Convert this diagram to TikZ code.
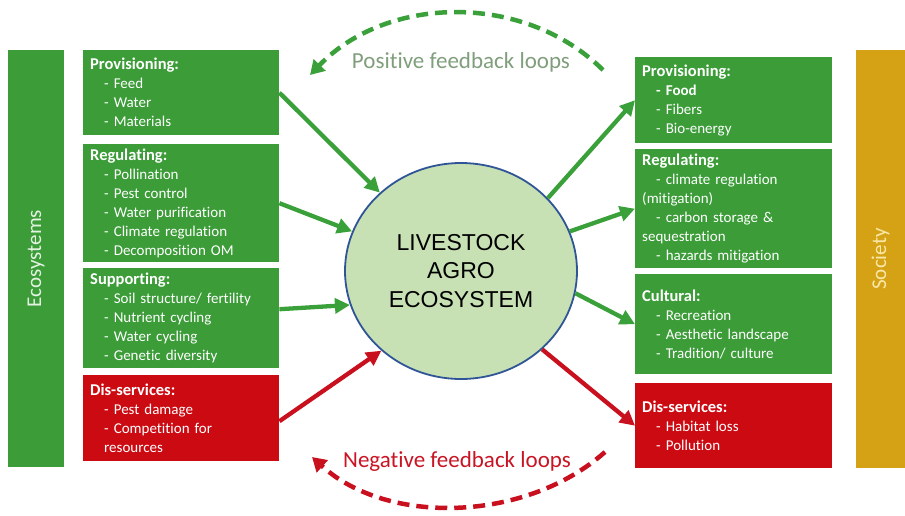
\documentclass[tikz,border=0pt]{standalone}
\usepackage{fontspec}
\setmainfont{Carlito}[Ligatures=NoCommon]
\newfontfamily\arialf{Liberation Sans}
\usetikzlibrary{shapes.geometric,arrows.meta}
\definecolor{gbox}{RGB}{59,156,56}
\definecolor{rbox}{RGB}{204,10,18}
\definecolor{goldbar}{RGB}{213,162,22}
\definecolor{circfill}{RGB}{199,224,180}
\definecolor{circline}{RGB}{47,85,151}
\definecolor{garr}{RGB}{58,160,58}
\definecolor{rarr}{RGB}{200,16,30}
\definecolor{postext}{RGB}{128,158,124}
\definecolor{negtext}{RGB}{200,20,35}
\definecolor{ecotext}{RGB}{228,242,226}
\definecolor{soctext}{RGB}{250,232,168}
\newcommand{\svtitle}[1]{{\bfseries\fontsize{16.5}{19}\selectfont #1}}
\newcommand{\svitem}[1]{\hspace*{14pt}#1}
\tikzset{
  svcbox/.style={anchor=north west, inner xsep=7pt, inner ysep=0pt,
    text width=#1, align=left, text=white,
    font=\fontsize{15}{19}\selectfont},
  gsvc/.style={svcbox=182pt, fill=gbox},
  rsvc/.style={svcbox=182pt, fill=rbox},
  gsvcr/.style={svcbox=183pt, fill=gbox},
  rsvcr/.style={svcbox=183pt, fill=rbox},
  sidebar/.style={rotate=90, inner sep=0pt, font=\fontsize{21}{24}\selectfont},
  garrow/.style={draw=garr, line width=4.3pt, -{Triangle[length=15pt,width=15pt]}},
  rarrow/.style={draw=rarr, line width=4.3pt, -{Triangle[length=15pt,width=15pt]}},
  loopline/.style={line width=4.5pt, dash pattern=on 12pt off 7pt,
    -{Triangle[length=14pt,width=16pt]}},
  looplabel/.style={anchor=base, font=\fontsize{23}{26}\selectfont}
}
\begin{document}
\begin{tikzpicture}[x=1pt,y=-1pt]
\useasboundingbox (0,0) rectangle (905,515);

% side bars
\node[sidebar, fill=gbox, text=ecotext, minimum width=417pt, minimum height=56pt]
  (eco) at (36,258.5) {Ecosystems};
\node[sidebar, fill=goldbar, text=soctext, minimum width=418pt, minimum height=49pt]
  (soc) at (880.5,259) {Society};

% left boxes
\node[gsvc, minimum height=85pt] (lp) at (83,50)
  {\svtitle{Provisioning:}\\ \svitem{- Feed}\\ \svitem{- Water}\\ \svitem{- Materials}};
\node[gsvc, minimum height=118pt] (lr) at (83,144)
  {\svtitle{Regulating:}\\ \svitem{- Pollination}\\ \svitem{- Pest control}\\
   \svitem{- Water purification}\\ \svitem{- Climate regulation}\\ \svitem{- Decomposition OM}};
\node[gsvc, minimum height=100pt] (ls) at (83,268)
  {\svtitle{Supporting:}\\ \svitem{- Soil structure/ fertility}\\ \svitem{- Nutrient cycling}\\
   \svitem{- Water cycling}\\ \svitem{- Genetic diversity}};
\node[rsvc, minimum height=86pt] (ld) at (83,375)
  {\svtitle{Dis-services:}\\ \svitem{- Pest damage}\\ \svitem{- Competition for}\\ \svitem{resources}};

% right boxes
\node[gsvcr, minimum height=86pt] (rp) at (635,57)
  {\svtitle{Provisioning:}\\ \svitem{\textbf{- Food}}\\ \svitem{- Fibers}\\ \svitem{- Bio-energy}};
\node[gsvcr, minimum height=119pt] (rr) at (635,149)
  {\svtitle{Regulating:}\\ \svitem{- climate regulation}\\ (mitigation)\\
   \svitem{- carbon storage \&}\\ sequestration\\ \svitem{- hazards mitigation}};
\node[gsvcr, minimum height=100pt] (rc) at (635,274)
  {\svtitle{Cultural:}\\ \svitem{- Recreation}\\ \svitem{- Aesthetic landscape}\\ \svitem{- Tradition/ culture}};
\node[rsvcr, minimum height=85pt] (rd) at (635,383)
  {\svtitle{Dis-services:}\\ \svitem{- Habitat loss}\\ \svitem{- Pollution}};

% centre
\node[ellipse, fill=circfill, draw=circline, line width=1.8pt,
      minimum width=232pt, minimum height=216pt, align=center,
      font=\arialf\fontsize{23}{28.5}\selectfont] (c) at (461,271)
  {LIVESTOCK\\AGRO\\ECOSYSTEM};

% connectors into the centre
\draw[garrow] (lp.east) -- (c.136);
\draw[garrow] (lr.east) -- (c.160);
\draw[garrow] ([yshift=9pt]ls.east) -- (c.197);
\draw[rarrow] ([yshift=-3pt]ld.east) -- (c.225);

% connectors out of the centre
\draw[garrow] (c.40) -- (rp.west);
\draw[garrow] (c.20) -- (rr.west);
\draw[garrow] (c.349) -- (rc.west);
\draw[rarrow] (c.316) -- (rd.west);

% feedback loops
\coordinate (pr) at (603,70);
\coordinate (pl) at (310,75);
\coordinate (nr) at (605,452);
\coordinate (nl) at (312,457);
\draw[loopline, draw=garr] (pr) .. controls (524,-8) and (387,-5) .. (pl);
\draw[loopline, draw=rarr] (nr) .. controls (526,522) and (388,526) .. (nl);
\node[looplabel, text=postext] (pos) at (461,68) {Positive feedback loops};
\node[looplabel, text=negtext] (neg) at (457,467) {Negative feedback loops};
\end{tikzpicture}
\end{document}
